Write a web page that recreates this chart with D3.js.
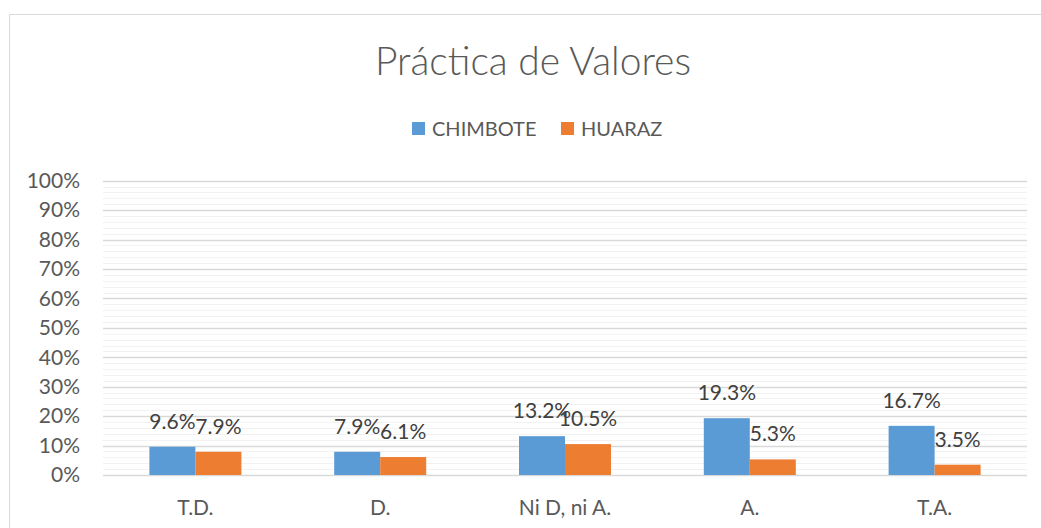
<!DOCTYPE html>
<html><head><meta charset="utf-8">
<script src="https://cdn.jsdelivr.net/npm/d3@7"></script>
<style>html,body{margin:0;padding:0;background:#fff;}svg{display:block;font-family:Lato,"Open Sans",sans-serif;}</style>
</head><body>
<svg id="c" width="1041" height="528"></svg>
<script>
const categories = ["T.D.", "D.", "Ni D, ni A.", "A.", "T.A."];
const seriesNames = ["CHIMBOTE", "HUARAZ"];
const chimbote = [9.6, 7.9, 13.2, 19.3, 16.7];
const huaraz = [7.9, 6.1, 10.5, 5.3, 3.5];
const tickValues = [0,10,20,30,40,50,60,70,80,90,100];
const colors = ["#5b9bd5", "#ed7d31"];

const svg = d3.select("#c");
// chart border
svg.append("path").attr("d","M9.5,540 V14.5 H1045").attr("fill","none").attr("stroke","#d9d9d9").attr("stroke-width",1);

const plot = {left:103, right:1027, top:180.7, bottom:475};
const y = d3.scaleLinear().domain([0,100]).range([plot.bottom, plot.top]);
const x0 = d3.scaleBand().domain(categories).range([plot.left, plot.right]).padding(0);
const groupW = 92;
const x1 = d3.scaleBand().domain(seriesNames).range([0, groupW]).padding(0);

// minor gridlines
const minor = d3.range(0, 101, 2).filter(v => v % 10 !== 0);
svg.append("g").selectAll("line").data(minor).join("line")
  .attr("x1", plot.left).attr("x2", plot.right)
  .attr("y1", d => Math.round(y(d))+0.5).attr("y2", d => Math.round(y(d))+0.5)
  .attr("stroke", "#f2f2f2").attr("stroke-width", 1);

// major gridlines via axis
const yAxis = d3.axisLeft(y).tickValues(tickValues).tickFormat(d => d + "%").tickSize(0).tickPadding(23);
const ga = svg.append("g").attr("transform", `translate(${plot.left},0)`).call(yAxis);
ga.select(".domain").remove();
ga.selectAll("text").attr("fill","#595959").attr("font-size","21px").attr("font-family","Lato");
svg.append("g").selectAll("line").data(tickValues).join("line")
  .attr("x1", plot.left).attr("x2", plot.right)
  .attr("y1", d => Math.round(y(d))+0.5).attr("y2", d => Math.round(y(d))+0.5)
  .attr("stroke", "#d9d9d9").attr("stroke-width", 1.3);

// bars
const data = categories.map((c,i) => ({cat:c, vals:[chimbote[i], huaraz[i]]}));
const groups = svg.append("g").selectAll("g").data(data).join("g")
  .attr("transform", d => `translate(${x0(d.cat) + (x0.bandwidth()-groupW)/2},0)`);
groups.selectAll("rect").data(d => d.vals.map((v,j)=>({s:seriesNames[j], v, j}))).join("rect")
  .attr("x", d => x1(d.s)).attr("width", x1.bandwidth())
  .attr("y", d => y(d.v)).attr("height", d => y(0)-y(d.v))
  .attr("fill", d => colors[d.j]);
groups.selectAll("text").data(d => d.vals.map((v,j)=>({s:seriesNames[j], v, j}))).join("text")
  .attr("x", d => x1(d.s) + x1.bandwidth()/2).attr("y", d => y(d.v) - 18)
  .attr("text-anchor","middle").attr("font-size","21px").attr("fill","#404040")
  .text(d => d.v.toFixed(1) + "%");

// category axis
const xAxis = d3.axisBottom(x0).tickSize(0).tickPadding(25);
const gx = svg.append("g").attr("transform", `translate(0,${plot.bottom})`).call(xAxis);
gx.select(".domain").remove();
gx.selectAll("text").attr("fill","#595959").attr("font-size","21px").attr("font-family","Lato");

// title
svg.append("text").attr("x", 533).attr("y", 75).attr("text-anchor","middle")
  .attr("font-size","39px").attr("font-weight",300).attr("fill","#595959").text("Práctica de Valores");

// legend
const legX = [412, 561];
const leg = svg.append("g").selectAll("g").data(seriesNames).join("g")
  .attr("transform", (d,i) => `translate(${legX[i]},122)`);
leg.append("rect").attr("width",13).attr("height",13).attr("fill",(d,i)=>colors[i]);
leg.append("text").attr("x",20).attr("y",14).attr("font-size","20px").attr("fill","#595959").text(d=>d);
</script>
</body></html>
